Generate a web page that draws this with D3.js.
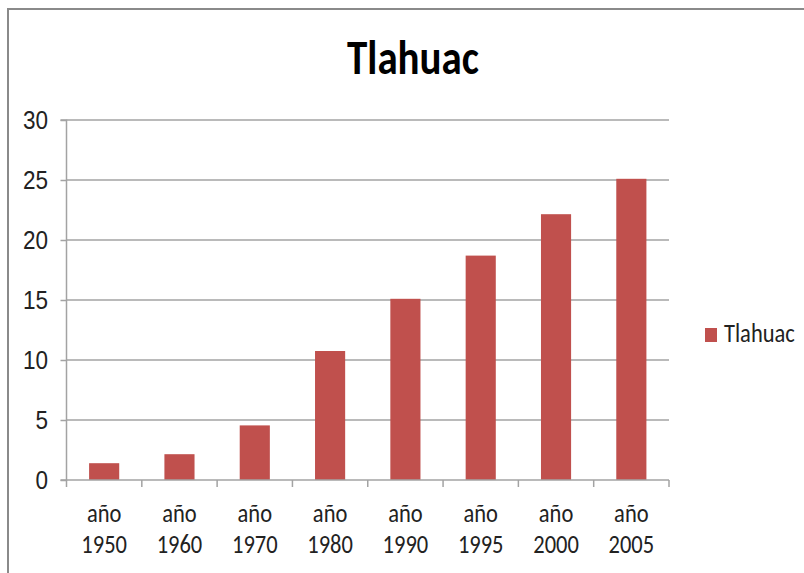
<!DOCTYPE html>
<meta charset="utf-8">
<title>Tlahuac</title>
<style>
body {
  margin: 0;
  background: #fff;
  font-family: Carlito, "Liberation Sans Narrow", "Open Sans", sans-serif;
}
.axis text { fill: #222; font-size: 22.5px; }
</style>
<body>
<script src="https://cdn.jsdelivr.net/npm/d3@7"></script>
<script>
'use strict';

const years = ["1950", "1960", "1970", "1980", "1990", "1995", "2000", "2005"];
const values = [1.4, 2.15, 4.55, 10.75, 15.1, 18.7, 22.15, 25.1];
const yTicks = [0, 5, 10, 15, 20, 25, 30];
const seriesName = "Tlahuac";

const width = 804, height = 573;
const plot = {left: 66.5, right: 669, top: 120, bottom: 480};
const barColor = "#C0504D", gridColor = "#a3a3a3";
const sy = 1.16; // the original text is a bit taller than wide

const svg = d3.select("body").append("svg")
    .attr("width", width)
    .attr("height", height);

// chart frame
svg.append("rect")
    .attr("x", 8).attr("y", 9)
    .attr("width", 820).attr("height", 600)
    .attr("fill", "none")
    .attr("stroke", "#8a8a8a")
    .attr("stroke-width", 2);

const x = d3.scaleBand().domain(years).range([plot.left, plot.right]);
const y = d3.scaleLinear().domain([0, 30]).range([plot.bottom, plot.top]);

// gridlines
svg.append("g").selectAll("line")
  .data(yTicks.slice(1))
  .enter().append("line")
    .attr("x1", plot.left).attr("x2", plot.right)
    .attr("y1", d => y(d)).attr("y2", d => y(d))
    .attr("stroke", gridColor)
    .attr("stroke-width", 1.5);

// y axis
const yAxis = svg.append("g")
    .attr("class", "axis")
    .attr("transform", `translate(${plot.left},0)`)
    .call(d3.axisLeft(y).tickValues(yTicks).tickSize(6).tickPadding(12));
yAxis.selectAll("path, line").attr("stroke", gridColor).attr("stroke-width", 1.5);
yAxis.select(".domain").attr("d", `M-6,${plot.top}H0V${plot.bottom}H-6`);
yAxis.selectAll("text")
    .attr("x", -18.5)
    .attr("dy", "0.32em")
    .attr("transform", `scale(1,${sy})`);

// bars
const bw = x.bandwidth() * 0.4;
svg.append("g").selectAll("rect")
  .data(values)
  .enter().append("rect")
    .attr("x", (d, i) => x(years[i]) + (x.bandwidth() - bw) / 2)
    .attr("y", d => y(d))
    .attr("width", bw)
    .attr("height", d => y(0) - y(d))
    .attr("fill", barColor);

// x axis
const xg = svg.append("g").attr("class", "axis");
xg.append("line")
    .attr("x1", plot.left).attr("x2", plot.right)
    .attr("y1", plot.bottom).attr("y2", plot.bottom)
    .attr("stroke", gridColor).attr("stroke-width", 1.5);
xg.selectAll(".tk")
  .data(years.concat(["end"]))
  .enter().append("line")
    .attr("x1", d => d === "end" ? plot.right : x(d))
    .attr("x2", d => d === "end" ? plot.right : x(d))
    .attr("y1", plot.bottom).attr("y2", plot.bottom + 7)
    .attr("stroke", gridColor).attr("stroke-width", 1.5);
const lbl = xg.selectAll(".lbl")
  .data(years)
  .enter().append("g")
    .attr("transform", d => `translate(${x(d) + x.bandwidth() / 2},0) scale(1,${sy})`);
lbl.append("text").attr("text-anchor", "middle").attr("y", 522 / sy).text("año");
lbl.append("text").attr("text-anchor", "middle").attr("y", 553.5 / sy).text(d => d);

// title
svg.append("g")
    .attr("transform", `translate(413,73.5) scale(1,1.2)`)
  .append("text")
    .attr("text-anchor", "middle")
    .style("font-size", "41px")
    .style("font-weight", "bold")
    .text(seriesName);

// legend
const lg = svg.append("g").attr("transform", "translate(705,328)");
lg.append("rect").attr("width", 12).attr("height", 14).attr("fill", barColor);
lg.append("g")
    .attr("transform", `translate(19,14.3) scale(1,${sy})`)
  .append("text")
    .style("font-size", "22.5px")
    .attr("fill", "#222")
    .text(seriesName);
</script>
